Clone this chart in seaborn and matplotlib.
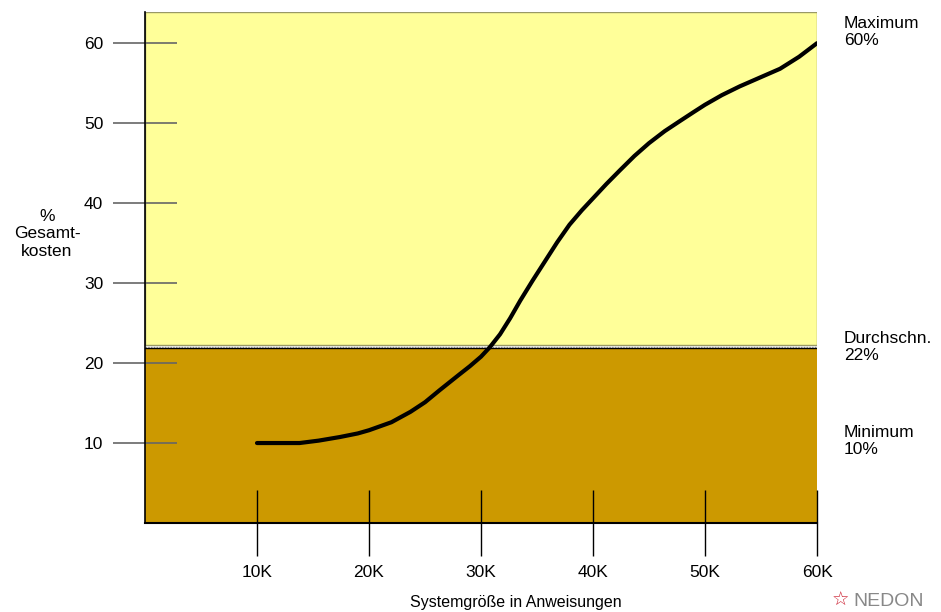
import matplotlib.pyplot as plt
import seaborn as sns
import pandas as pd

sns.set_style('white')
plt.rcParams['font.family'] = ['Liberation Sans', 'DejaVu Sans']
plt.rcParams['text.color'] = 'black'

# Kurve: Systemgroesse (Tausend Anweisungen) vs. % Gesamtkosten
groesse = [10, 12, 13.8, 15.5, 17.4, 19, 20, 22, 23.7, 25, 26.3, 28, 29, 30, 30.8, 31.7,
           32.6, 33.5, 34.6, 35.7, 36.8, 37.9, 39, 40, 41.2, 42.4, 43.7, 45, 46.4, 47.8,
           49, 50, 51.5, 53.1, 54.9, 56.7, 58.4, 60]
kosten = [10, 10, 10, 10.3, 10.75, 11.2, 11.6, 12.6, 13.9, 15.1, 16.6, 18.5, 19.6, 20.8, 22, 23.6,
          25.6, 27.8, 30.3, 32.7, 35.1, 37.3, 39.1, 40.6, 42.4, 44.1, 45.9, 47.5, 49.0, 50.3,
          51.4, 52.3, 53.5, 54.6, 55.7, 56.8, 58.3, 60]
x_ticks = [10, 20, 30, 40, 50, 60]
x_labels = ['10K', '20K', '30K', '40K', '50K', '60K']
y_ticks = [10, 20, 30, 40, 50, 60]
minimum, mittel, maximum = 10, 22, 60

df = pd.DataFrame({'groesse': groesse, 'kosten': kosten})

fig = plt.figure(figsize=(9.41, 6.12), dpi=100)
ax = fig.add_axes([145/941, 89/612, 672/941, 511/612])

ax.set_xlim(0, 60)
ax.set_ylim(0, 63.9)

# Bereiche
ax.axhspan(mittel + 0.2, 63.9, facecolor='#ffff99', edgecolor='#999966', lw=1, zorder=0)
ax.axhspan(0, mittel - 0.15, facecolor='#cc9900', edgecolor='none', zorder=0)
ax.axhline(mittel + 0.03, color='#999999', lw=1, ls=(0, (1, 1)), zorder=1)
ax.axhline(mittel - 0.15, color='black', lw=1, zorder=1)

sns.lineplot(data=df, x='groesse', y='kosten', color='black', lw=3, ax=ax, zorder=3)

for s in ['top', 'right']:
    ax.spines[s].set_visible(False)
ax.spines['left'].set_color('black')
ax.spines['bottom'].set_color('black')
ax.spines['left'].set_linewidth(1.2)
ax.spines['bottom'].set_linewidth(1.5)

ax.set_xticks(x_ticks)
ax.set_xticklabels(x_labels)
ax.set_yticks(y_ticks)
ax.tick_params(axis='y', left=True, direction='inout', length=46, width=1.2,
               color='#666666', labelcolor='black', pad=7, labelsize=12.5)
ax.tick_params(axis='x', bottom=True, direction='inout', length=47, width=1,
               color='black', labelcolor='black', pad=7, labelsize=12.5)
ax.set_xlabel('')
ax.set_ylabel('')

fig.text(516/941, 1 - 602/612, 'Systemgröße in Anweisungen', ha='center', va='center',
         fontsize=11.5)
fig.text(47/941, 1 - 234/612, '%\nGesamt-\nkosten', ha='center', va='center',
         fontsize=12.5, linespacing=1.2)

fig.text(844/941, 1 - 32/612, 'Maximum\n%d%%' % maximum, ha='left', va='center',
         fontsize=12.5, linespacing=1.2)
fig.text(844/941, 1 - 347/612, 'Durchschn.\n%d%%' % mittel, ha='left', va='center',
         fontsize=12.5, linespacing=1.2)
fig.text(844/941, 1 - 441/612, 'Minimum\n%d%%' % minimum, ha='left', va='center',
         fontsize=12.5, linespacing=1.2)

# Logo unten rechts
fig.text(853/941, 1 - 601/612, 'NEDON', ha='left', va='center', fontsize=14,
         color='#888888')
fig.text(840/941, 1 - 600/612, '☆', ha='center', va='center', fontsize=14,
         color='#cc2233', family=['DejaVu Sans'])

fig.savefig('out.png', dpi=100)
